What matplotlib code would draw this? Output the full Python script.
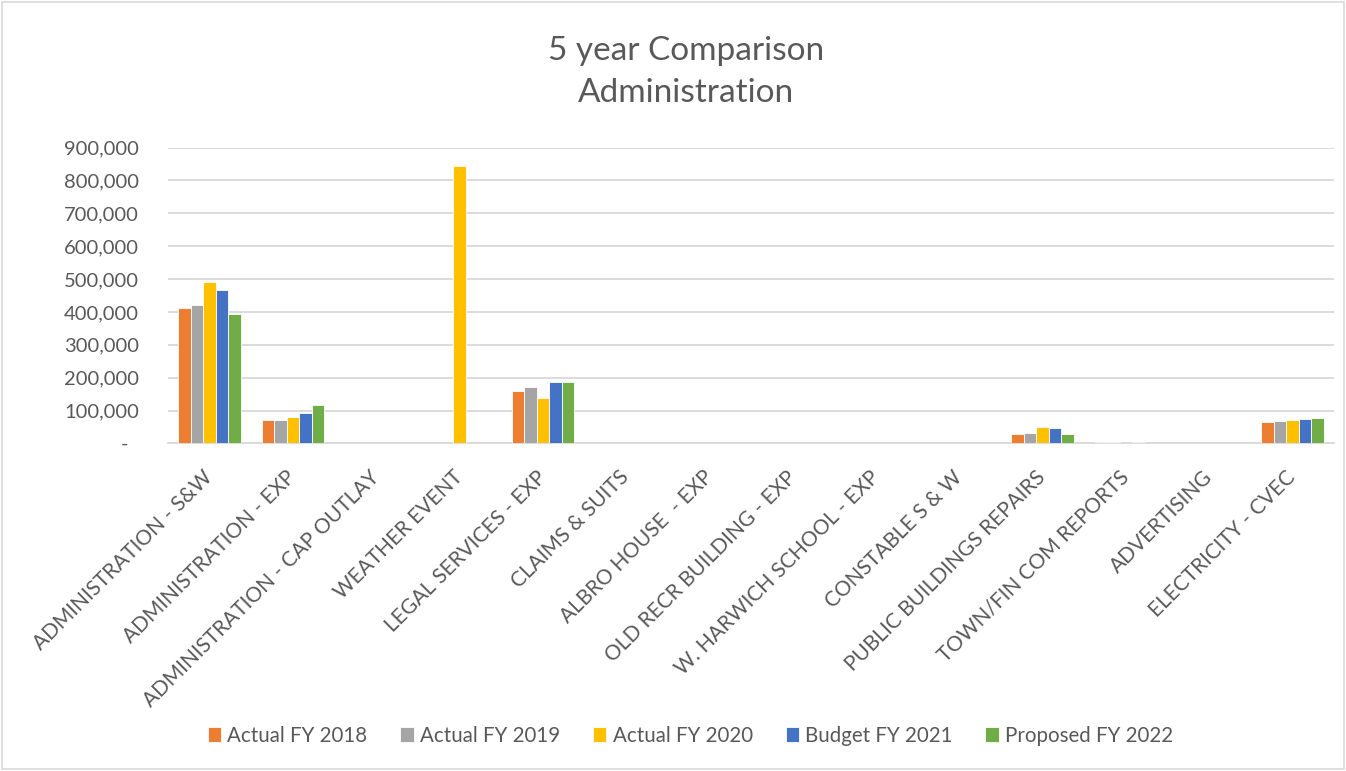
import numpy as np
import matplotlib
matplotlib.use("Agg")
import matplotlib.pyplot as plt
from matplotlib.ticker import FuncFormatter
from matplotlib.patches import Rectangle

plt.rcParams['font.family'] = ['Lato', 'DejaVu Sans']

categories = ["ADMINISTRATION - S&W", "ADMINISTRATION - EXP", "ADMINISTRATION - CAP OUTLAY",
              "WEATHER EVENT", "LEGAL SERVICES - EXP", "CLAIMS & SUITS", "ALBRO HOUSE  - EXP",
              "OLD RECR BUILDING - EXP", "W. HARWICH SCHOOL - EXP", "CONSTABLE S & W",
              "PUBLIC BUILDINGS REPAIRS", "TOWN/FIN COM REPORTS", "ADVERTISING", "ELECTRICITY - CVEC"]

series_names = ["Actual FY 2018", "Actual FY 2019", "Actual FY 2020", "Budget FY 2021", "Proposed FY 2022"]

actual_2018 = [413000, 72000, 1500, 0, 160000, 0, 0, 1000, 0, 0, 28000, 4000, 0, 66000]
actual_2019 = [422000, 71000, 1000, 0, 171000, 0, 0, 500, 0, 0, 32000, 6000, 500, 68000]
actual_2020 = [491000, 82000, 0, 843000, 139000, 0, 0, 1000, 0, 0, 51000, 1500, 0, 72000]
budget_2021 = [466000, 92000, 3000, 0, 186000, 0, 3000, 3000, 0, 0, 48000, 4000, 1000, 73000]
proposed_2022 = [395000, 116000, 3000, 0, 186000, 0, 3000, 3000, 0, 0, 30000, 2500, 1000, 77000]

colors = ["#ED7D31", "#A5A5A5", "#FFC000", "#4472C4", "#70AD47"]

fig = plt.figure(figsize=(13.46, 7.71), dpi=100)
ax = fig.add_axes([168 / 1346, 1 - 443.5 / 771, (1334 - 168) / 1346, (443.5 - 147.5) / 771])

x = np.arange(len(categories))
w = 0.15
all_series = [actual_2018, actual_2019, actual_2020, budget_2021, proposed_2022]
for i, (vals, name, c) in enumerate(zip(all_series, series_names, colors)):
    ax.bar(x + (i - 2) * w, vals, w, color=c, label=name, edgecolor='white', linewidth=0.6, zorder=3)

ax.set_xlim(-0.5, len(categories) - 0.5)
ax.set_ylim(0, 900000)
ax.set_yticks(np.arange(0, 900001, 100000))
ax.yaxis.set_major_formatter(FuncFormatter(lambda v, p: "-  " if v == 0 else f"{v:,.0f}"))
ax.grid(axis='y', color='#d9d9d9', linewidth=1.3, zorder=0)
for s in ['top', 'right', 'left']:
    ax.spines[s].set_visible(False)
ax.spines['bottom'].set_color('#d9d9d9')
ax.spines['bottom'].set_linewidth(1.3)
ax.tick_params(axis='both', length=0, colors='#595959')
ax.tick_params(axis='y', labelsize=14.5, pad=21)
ax.set_xticks(x)
ax.set_xticklabels(categories, rotation=45, ha='right', va='center', rotation_mode='anchor',
                   fontsize=15, color='#595959')
ax.tick_params(axis='x', pad=22)

fig.text(0.51, 0.906, "5 year Comparison\nAdministration", ha='center', va='center',
         fontsize=24, color='#595959', linespacing=1.5)

handles, labels = ax.get_legend_handles_labels()
fig.legend(handles, labels, loc='center', bbox_to_anchor=(0.513, 0.046), ncol=5, frameon=False,
           fontsize=14.8, labelcolor='#595959', handlelength=0.65, handleheight=0.7,
           handletextpad=0.3, columnspacing=1.6)

fig.patches.append(Rectangle((0.0015, 0.002), 0.997, 0.996, transform=fig.transFigure,
                             fill=False, edgecolor='#d9d9d9', linewidth=1.2))

fig.savefig("out.png", dpi=100)
